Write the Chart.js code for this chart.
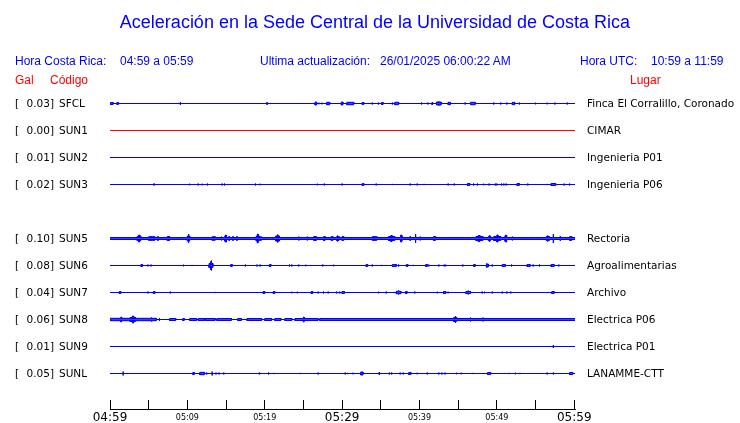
<!DOCTYPE html>
<html lang="es">
  <head>
    <meta charset="utf-8">
    <title>Aceleración UCR</title>
    <style>
      body { margin: 0; background: #fff; }
      #wrap { position: relative; width: 740px; height: 423px; }
      #chart { position: absolute; left: 0; top: 0; }
      .t {
        position: absolute;
        font-family: "Liberation Sans", Arial, sans-serif;
        font-size: 12px;
        line-height: 12px;
        white-space: nowrap;
        color: #0000ff;
      }
      .red { color: #ff0000; }
      #title { left: 0; width: 750px; text-align: center; top: 13px; font-size: 18px; line-height: 18px; }
    </style>
  </head>
  <body>
    <div id="wrap">
      <canvas id="chart" width="740" height="423"></canvas>
      <div class="t" id="title">Aceleración en la Sede Central de la Universidad de Costa Rica</div>
      <div class="t" style="left:15px;top:55px">Hora Costa Rica:</div>
      <div class="t" style="left:120px;top:55px">04:59 a 05:59</div>
      <div class="t" style="left:260px;top:55px">Ultima actualización:</div>
      <div class="t" style="left:380px;top:55px">26/01/2025 06:00:22 AM</div>
      <div class="t" style="left:580px;top:55px">Hora UTC:</div>
      <div class="t" style="left:651px;top:55px">10:59 a 11:59</div>
      <div class="t red" style="left:15px;top:74px">Gal</div>
      <div class="t red" style="left:50px;top:74px">Código</div>
      <div class="t red" style="left:630px;top:74px">Lugar</div>
    </div>
    <script src="https://cdn.jsdelivr.net/npm/chart.js"></script>
    <script>
      // stations, top to bottom (SUN4 is not reporting)
      const codes = ["SFCL", "SUN1", "SUN2", "SUN3", "SUN4", "SUN5", "SUN6", "SUN7", "SUN8", "SUN9", "SUNL"];
      const places = ["Finca El Corralillo, Coronado", "CIMAR", "Ingenieria P01", "Ingenieria P06", "",
        "Rectoria", "Agroalimentarias", "Archivo", "Electrica P06", "Electrica P01", "LANAMME-CTT"];
      const peakGal = [0.03, 0.00, 0.01, 0.02, null, 0.10, 0.08, 0.04, 0.06, 0.01, 0.05];
      const traceColors = ["#0000ff", "#ff0000", "#0000ff", "#0000ff", null, "#0000ff",
        "#0000ff", "#0000ff", "#0000ff", "#0000ff", "#0000ff"];
      const noiseFloor = [0, 0, 0, 0, 0, 1.0, 0, 0, 0, 0, 0];

      // minutes after 04:59, 5 min ticks
      const tickMinutes = [0, 5, 10, 15, 20, 25, 30, 35, 40, 45, 50, 55, 60];
      const tickLabels = ["04:59", "", "05:09", "", "05:19", "", "05:29", "", "05:39", "", "05:49", "", "05:59"];
      const majorLabels = ["04:59", "05:29", "05:59"];
      const traceEnd = 60.1;

      // events: [minute, amplitude, duration in minutes]
      const evSFCL = [[0.1,1,0.3],[0.9,1,0.2],[9.1,1.5,0],[20.3,1.5,0],[26.5,1.5,0.2],[27.0,0.8,0],[27.4,0.8,0],
        [28.0,1.2,0.4],[29.9,1.5,0.2],[30.6,1.2,0.9],[32.6,1,0.2],[33.9,1,0],[34.7,1,0],[35.1,1,0.2],[36.5,1,0],
        [36.8,1.2,0.5],[40.2,1,0.1],[41.1,1,0],[41.6,1,0.1],[42.2,1.5,0.6],[42.5,2,0],[43.7,1.2,0.3],[45.9,1,0],
        [46.6,1.2,0.6],[49.6,1,0],[50.5,1,0],[51.3,1,0],[52.0,1.2,0.3],[52.9,1,0],[55.0,0.8,0],[56.5,0.8,0],
        [57.5,1,0],[59.1,1,0]];
      const evSUN1 = [];
      const evSUN2 = [];
      const evSUN3 = [[5.7,1.2,0],[10.3,0.8,0],[11.4,1,0],[11.9,0.8,0],[12.6,1,0],[14.5,1,0],[14.8,1,0],[18.8,1,0],
        [19.4,0.8,0],[26.8,0.8,0],[27.7,1,0],[30.0,1,0],[32.6,1,0.2],[34.4,1,0],[36.5,0.6,0],[38.8,1,0],[39.7,1,0],
        [40.6,0.6,0],[43.7,1,0],[44.5,1,0],[46.2,1,0.3],[47.0,1,0],[47.5,1,0],[48.3,0.8,0],[49.0,1,0],[49.8,1,0],
        [50.0,1,0],[50.6,1,0],[50.9,1,0],[51.2,1,0],[52.6,1,0.3],[54.0,1,0],[56.5,0.6,0],[57.0,1,0.6],[58.7,1,0],
        [59.4,1,0]];
      const evSUN4 = [];
      const evSUN5 = [[2.0,1.5,0],[2.7,1.5,0],[3.5,2,0.5],[3.7,3.5,0.15],[4.6,1.5,0],[5.0,1.8,0.8],[5.3,2.5,0.1],
        [6.2,2.5,0],[7.4,2,0.3],[7.5,2.5,0],[10.0,2.5,0.3],[10.1,4.5,0.1],[13.2,1.8,0.4],[14.4,2,0],[14.8,2,0.3],
        [14.9,3.5,0.1],[15.4,2.5,0],[15.9,2.5,0],[16.4,2.5,0],[17.7,1.5,0],[18.3,1.5,0],[18.9,2.5,0.4],[19.05,4.5,0.1],
        [19.5,2.5,0],[20.9,1.5,0],[21.4,2.5,0.5],[21.6,4,0.1],[21.8,3,0],[24.4,2,0],[25.5,2,0],[26.3,1.8,0.4],
        [26.5,2.5,0],[27.6,2,0.2],[28.6,2,0.2],[29.3,2,0.3],[29.4,3,0],[30.0,2,0.2],[31.3,1.5,0],[31.9,1.5,0],
        [33.9,1.8,0.6],[34.1,2.5,0],[36.0,2,0.8],[36.3,3,0.15],[37.5,2,0.3],[37.6,3.5,0.1],[38.8,2.5,0],[39.5,4.5,0],
        [40.1,2,0],[41.0,1.5,0],[41.8,1.8,0.3],[41.9,2.5,0],[43.5,1.5,0],[45.8,1.5,0],[47.3,2,0.9],[47.6,3,0.2],
        [48.9,2,0.3],[49.0,3.5,0.1],[49.6,2,0.9],[50.0,3.5,0.15],[51.0,2,0.3],[51.1,3.5,0.1],[52.0,2,0],[53.7,1.5,0],
        [55.0,1.5,0],[56.4,2,0.4],[56.5,3,0.1],[57.3,4.5,0],[58.2,2.5,0],[59.4,1.8,0.3],[59.5,2.5,0]];
      const evSUN6 = [[4.0,1,0.2],[4.9,1,0],[5.3,1,0],[9.5,0.8,0],[10.6,0.6,0],[12.8,2,0.5],[13.0,4,0.15],[13.1,5,0],
        [15.6,1,0.2],[17.5,1,0],[19.0,1,0],[19.4,1,0],[20.6,1,0.2],[23.2,1,0],[23.5,1,0],[24.4,1,0],[25.3,0.8,0],
        [27.5,1,0],[28.9,0.8,0],[33.1,1,0.2],[33.9,1,0],[35.1,0.6,0],[36.5,1,0.5],[37.3,1,0],[38.3,1,0.2],
        [39.2,0.6,0],[40.8,1,0.2],[41.2,1,0],[42.5,1,0],[43.2,1,0],[43.4,0.8,0],[45.6,1,0],[47.0,1,0.2],
        [48.6,1.5,0.3],[48.7,2,0],[49.4,1,0],[50.7,1,0.4],[51.9,1,0],[53.9,1,0.4],[54.7,1,0],[55.5,1,0],
        [57.0,1,0.4],[58.0,1,0]];
      const evSUN7 = [[1.2,1,0.2],[4.9,1,0],[5.6,1,0.2],[7.8,1,0],[13.6,0.6,0],[19.8,1,0.2],[21.1,1,0.2],[23.5,0.8,0],
        [24.2,0.8,0],[26.0,1,0.2],[26.9,1,0],[27.6,1,0],[28.2,1,0],[29.3,1,0],[29.7,1,0],[30.0,1,0.3],[34.7,0.8,0],
        [35.7,1,0],[37.0,1.2,0.6],[37.3,2,0],[38.2,1,0.2],[39.4,1,0],[42.3,0.8,0],[43.1,1,0.3],[43.7,0.8,0],
        [46.0,1,0.6],[46.3,2,0],[48.1,1,0],[48.4,0.8,0],[49.4,1,0],[50.7,1,0],[51.3,1,0],[51.8,1,0],[57.1,1,0.3]];
      const evSUN8 = [[0,1.2,6.0],[1.4,2.5,0.1],[2.6,2,0.7],[2.9,3.5,0.15],[5.3,2,0.1],[6.4,1.5,0],[7.7,1,0.8],
        [9.4,1,0.2],[10.3,1,0.9],[11.4,1,0.8],[12.3,1,1.3],[13.8,1,1.9],[16.5,1,0.5],[17.7,1,1.9],[20.0,1,0.9],
        [21.3,1,0.8],[22.6,1,0.9],[23.9,1,3.0],[25.0,2.5,0.1],[27.1,1,33.0],[44.4,2,0.4],[44.6,3.5,0.1],
        [46.6,2,0],[48.2,2,0]];
      const evSUN9 = [[57.3,1.5,0]];
      const evSUNL = [[1.7,2,0],[10.7,1,0.2],[11.6,1.2,0.6],[12.5,1,0],[13.2,2,0],[13.7,1,0],[14.1,1,0],[14.7,1,0],
        [19.3,1,0],[20.5,1,0],[21.2,0.6,0],[24.6,0.6,0],[26.9,1,0],[30.4,1,0],[30.7,0.6,0],[31.4,0.8,0],
        [32.4,1.5,0.3],[34.8,1.5,0],[36.1,1,0],[36.4,1,0],[37.5,1,0],[37.9,1,0],[38.6,1,0.3],[39.7,0.8,0],
        [41.0,1,0],[42.5,1,0],[42.9,1,0],[43.3,1,0],[44.8,0.8,0],[45.4,0.8,0],[46.9,0.6,0],[48.8,1,0.4],
        [51.6,0.6,0],[52.4,0.8,0],[53.0,0.6,0],[56.5,1,0],[57.3,1,0],[59.4,1,0.4]];

      const events = [evSFCL, evSUN1, evSUN2, evSUN3, evSUN4, evSUN5, evSUN6, evSUN7, evSUN8, evSUN9, evSUNL];
      const GAIN = 1 / 27; // amplitude units per row

      // step envelope of one trace: bursts have a width, spikes are vertical strokes
      let envelope = function (evs, floor) {
        let cuts = [0, traceEnd];
        evs.forEach(e => { cuts.push(e[0]); cuts.push(e[0] + e[2]); });
        cuts = [...new Set(cuts)].sort((a, b) => a - b);
        let pts = [];
        let prev = floor;
        cuts.forEach(c => {
          let after = floor;
          let spike = 0;
          evs.forEach(e => {
            if (e[2] > 0 && e[0] <= c && c < e[0] + e[2]) after = Math.max(after, e[1]);
            if (e[2] === 0 && e[0] === c) spike = Math.max(spike, e[1]);
          });
          if (c >= traceEnd) after = prev;
          pts.push({ x: c, a: prev });
          if (spike > 0) pts.push({ x: c, a: spike });
          pts.push({ x: c, a: after });
          prev = after;
        });
        return pts;
      };

      let datasets = [];
      codes.forEach((code, i) => {
        if (peakGal[i] === null) return;
        let env = envelope(events[i], noiseFloor[i]);
        [1, -1].forEach(sign => {
          datasets.push({
            label: code,
            data: env.map(p => ({ x: p.x, y: i + sign * p.a * GAIN })),
            borderColor: traceColors[i],
            backgroundColor: traceColors[i],
            borderWidth: 1,
            pointRadius: 0,
            tension: 0,
            fill: { value: i },
          });
        });
      });

      // keep each row on a whole pixel, 27 px apart, first one at 103.5
      let rowGrid = {
        id: "rowGrid",
        afterLayout(chart) {
          let y = chart.scales.y;
          let area = chart.chartArea;
          y.min = -(103.5 - area.top) / 27;
          y.max = y.min + (area.bottom - area.top) / 27;
          y.configure();
        },
      };

      let stationLabels = {
        id: "stationLabels",
        afterDraw(chart) {
          let ctx = chart.ctx;
          let y = chart.scales.y;
          ctx.save();
          ctx.font = '10.5px "DejaVu Sans"';
          ctx.fillStyle = "#000";
          codes.forEach((code, i) => {
            if (peakGal[i] === null) return;
            let py = Math.floor(y.getPixelForValue(i)) + 4;
            ctx.textAlign = "left";
            ctx.fillText("[", 15, py);
            ctx.textAlign = "right";
            ctx.fillText(peakGal[i].toFixed(2) + "]", 54, py);
            ctx.textAlign = "left";
            ctx.fillText(code, 59, py);
            ctx.fillText(places[i], 587, py);
          });
          ctx.restore();
        },
      };

      new Chart(document.getElementById("chart"), {
        type: "line",
        data: { datasets: datasets },
        plugins: [rowGrid, stationLabels],
        options: {
          responsive: false,
          animation: false,
          events: [],
          layout: { padding: { left: 110, right: 165, top: 90, bottom: 0 } },
          plugins: { legend: { display: false }, tooltip: { enabled: false } },
          scales: {
            x: {
              type: "linear",
              min: 0,
              max: traceEnd,
              afterFit: function (scale) { scale.height = 14; },
              afterBuildTicks: function (scale) {
                scale.ticks = tickMinutes.map(v => ({ value: v }));
              },
              border: { color: "#000", width: 1 },
              grid: { drawOnChartArea: false, tickLength: -9, color: "#000" },
              ticks: {
                autoSkip: false,
                maxRotation: 0,
                padding: 11,
                color: "#000",
                callback: function (value, index) { return tickLabels[index]; },
                font: function (c) {
                  let big = majorLabels.includes(tickLabels[c.index]);
                  return { family: "DejaVu Sans", size: big ? 12 : 8, lineHeight: "14px" };
                },
              },
            },
            y: { type: "linear", display: false, reverse: true, min: -0.5, max: 11.315 },
          },
        },
      });
    </script>
  </body>
</html>
